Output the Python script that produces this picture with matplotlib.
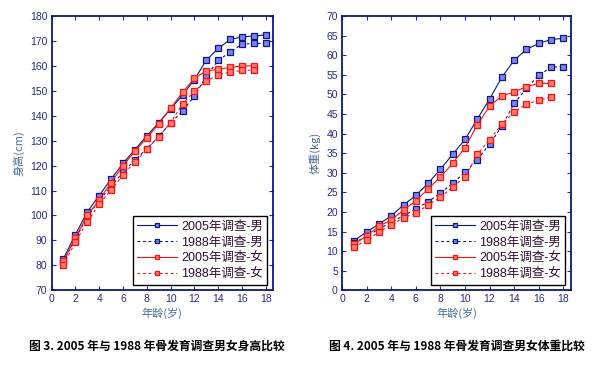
import matplotlib.pyplot as plt

plt.rcParams['font.family'] = ['Liberation Sans', 'Noto Sans CJK SC', 'DejaVu Sans']

# 年龄
edad_m = list(range(1, 19))
edad_f = list(range(1, 18))

# 身高 (cm)
talla_m2005 = [82.7, 92.3, 101.4, 108.0, 114.6, 120.9, 126.4, 131.9, 137.2, 142.8,
               148.2, 154.5, 162.3, 167.0, 170.6, 171.6, 172.0, 172.4]
talla_m1988 = [81.5, 90.5, 99.5, 106.0, 111.6, 117.4, 122.2, 126.7, 131.8, 137.0,
               141.9, 147.9, 155.9, 162.2, 165.5, 168.7, 169.0, 169.0]
talla_f2005 = [81.7, 91.0, 100.0, 106.2, 113.2, 119.9, 125.8, 131.1, 136.7, 143.0,
               149.4, 155.0, 158.0, 158.6, 159.4, 160.0, 160.0]
talla_f1988 = [80.1, 89.3, 97.4, 104.5, 110.2, 116.3, 121.4, 126.5, 131.6, 137.2,
               144.7, 149.9, 153.9, 156.5, 157.4, 158.2, 158.3]

# 体重 (kg)
peso_m2005 = [12.7, 14.9, 16.9, 19.0, 21.8, 24.2, 27.3, 30.9, 34.7, 38.5,
              43.7, 48.8, 54.4, 58.7, 61.5, 63.0, 64.0, 64.3]
peso_m1988 = [12.0, 13.9, 15.6, 17.4, 19.0, 20.8, 22.6, 24.8, 27.3, 30.1,
              33.3, 37.3, 41.9, 47.7, 51.5, 54.9, 56.9, 57.1]
peso_f2005 = [11.8, 13.9, 16.4, 17.9, 20.5, 22.8, 25.9, 28.9, 32.4, 36.4,
              42.2, 47.0, 49.6, 50.6, 52.0, 52.8, 52.8]
peso_f1988 = [11.0, 12.8, 14.9, 16.7, 18.5, 19.7, 21.8, 23.7, 26.4, 28.8,
              34.7, 38.4, 42.4, 45.5, 47.5, 48.5, 49.3]

etiquetas = ['2005年调查-男', '1988年调查-男', '2005年调查-女', '1988年调查-女']

azul, azul_claro = '#0A1A7A', '#8080F0'
rojo, rojo_claro = '#FF1010', '#FF8070'
color_ticks = '#2A2A8A'
color_label = '#4A6A9A'


def dibujar(ax, m05, m88, f05, f88, ylim, yticks, ylabel):
    estilo = dict(marker='s', markersize=4.3, linewidth=0.8, markeredgewidth=0.9)
    ax.plot(edad_m, m05, color=azul, mfc=azul_claro, mec=azul, linestyle='-', label=etiquetas[0], **estilo)
    ax.plot(edad_m, m88, color=azul, mfc=azul_claro, mec=azul, linestyle=(0, (2.5, 2.5)), label=etiquetas[1], **estilo)
    ax.plot(edad_f, f05, color=rojo, mfc=rojo_claro, mec=rojo, linestyle='-', label=etiquetas[2], **estilo)
    ax.plot(edad_f, f88, color=rojo, mfc=rojo_claro, mec=rojo, linestyle=(0, (2.5, 2.5)), label=etiquetas[3], **estilo)
    ax.set_xlim(0, 18.6)
    ax.set_ylim(*ylim)
    ax.set_xticks(range(0, 19, 2))
    ax.set_yticks(yticks)
    ax.tick_params(direction='in', top=True, right=True, length=3, width=0.8,
                   colors=color_ticks, labelsize=7.5, pad=3)
    for s in ax.spines.values():
        s.set_color(azul)
        s.set_linewidth(1.3)
    ax.set_xlabel('年龄(岁)', color=color_label, fontsize=8, labelpad=2,
                  family=['Noto Sans CJK SC', 'DejaVu Sans'])
    ax.set_ylabel(ylabel, color=color_label, fontsize=8, labelpad=4,
                  family=['Noto Sans CJK SC', 'DejaVu Sans'])
    leg = ax.legend(loc='lower right', fontsize=9, handlelength=3.2, markerscale=0.75,
                    fancybox=False, framealpha=1, edgecolor='black',
                    borderaxespad=0.45, labelspacing=0.3, handletextpad=0.3,
                    borderpad=0.35)
    leg.get_frame().set_linewidth(1.0)
    for t in leg.get_texts():
        t.set_color('#301030')


fig = plt.figure(figsize=(6.06, 3.73), dpi=100)
ax1 = fig.add_axes([0.085, 0.2217, 0.3655, 0.7354])
ax2 = fig.add_axes([0.5644, 0.2217, 0.3774, 0.7354])

dibujar(ax1, talla_m2005, talla_m1988, talla_f2005, talla_f1988,
        (70, 180), range(70, 181, 10), '身高(cm)')
dibujar(ax2, peso_m2005, peso_m1988, peso_f2005, peso_f1988,
        (0, 70), range(0, 71, 5), '体重(kg)')

fig.text(157 / 606, 1 - 346 / 373, '图 3. 2005 年与 1988 年骨发育调查男女身高比较',
         ha='center', va='center', fontsize=8.5, fontweight='bold',
         family=['Noto Sans CJK SC', 'DejaVu Sans'])
fig.text(457 / 606, 1 - 346 / 373, '图 4. 2005 年与 1988 年骨发育调查男女体重比较',
         ha='center', va='center', fontsize=8.5, fontweight='bold',
         family=['Noto Sans CJK SC', 'DejaVu Sans'])

fig.savefig('out.png', dpi=100)
